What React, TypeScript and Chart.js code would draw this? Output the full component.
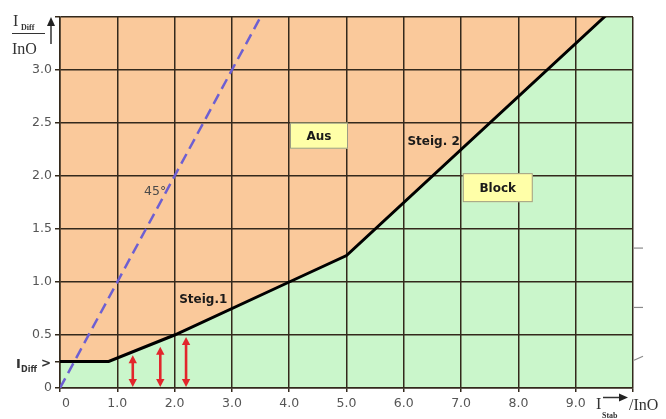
import { useEffect, useRef } from 'react';
import { Chart, registerables } from 'chart.js';

Chart.register(...registerables);

// ---- data ----
const xTickValues = [0, 1, 2, 3, 4, 5, 6, 7, 8, 9, 10];
const yTickValues = [0, 0.25, 0.5, 1.0, 1.5, 2.0, 2.5, 3.0, 3.5];
const curveX = [0, 0.85, 2, 4, 5, 9.5, 10];
const curveY = [0.25, 0.25, 0.5, 1.0, 1.25, 3.5, 3.75];
const diagX = [0, 3.6];
const diagY = [0, 3.6];
const arrowX = [1.27, 1.75, 2.2];
const arrowTop = [0.31, 0.39, 0.48];
const rightMarks = [1.32, 0.76, 0.28];
const boxTexts = ['Aus', 'Block'];
const boxX = [4.52, 7.64];
const boxY = [2.38, 1.89];
const noteTexts = ['Steig. 2', 'Steig.1'];
const noteX = [6.52, 2.5];
const noteY = [2.32, 0.83];
const angleText = '45°';
const angleX = 1.66;
const angleY = 1.85;

// ---- styles ----
const ORANGE = '#fac99b';
const GREEN = '#caf6cb';
const GRID = '#33291c';
const TICK_COLOR = '#555555';
const SANS = '"DejaVu Sans", Verdana, sans-serif';
const SERIF = '"Liberation Serif", "DejaVu Serif", serif';

const annotPlugin = {
  id: 'annot',
  afterDatasetsDraw(chart: any) {
    const { ctx } = chart;
    const xs = chart.scales.x;
    const ys = chart.scales.y;
    ctx.save();
    ctx.strokeStyle = '#e2262c';
    ctx.fillStyle = '#e2262c';
    ctx.lineWidth = 2.6;
    const head = 8;
    const hw = 4.2;
    for (let i = 0; i < arrowX.length; i++) {
      const px = xs.getPixelForValue(arrowX[i]);
      const y0 = ys.getPixelForValue(0) - 1;
      const y1 = ys.getPixelForValue(arrowTop[i]);
      ctx.beginPath();
      ctx.moveTo(px, y0 - head + 1);
      ctx.lineTo(px, y1 + head - 1);
      ctx.stroke();
      ctx.beginPath();
      ctx.moveTo(px, y1);
      ctx.lineTo(px - hw, y1 + head);
      ctx.lineTo(px + hw, y1 + head);
      ctx.closePath();
      ctx.fill();
      ctx.beginPath();
      ctx.moveTo(px, y0);
      ctx.lineTo(px - hw, y0 - head);
      ctx.lineTo(px + hw, y0 - head);
      ctx.closePath();
      ctx.fill();
    }
    ctx.restore();
  },
  afterDraw(chart: any) {
    const { ctx } = chart;
    const xs = chart.scales.x;
    const ys = chart.scales.y;
    const area = chart.chartArea;
    ctx.save();
    // faint marks right of the frame
    ctx.strokeStyle = '#8a8a8a';
    ctx.lineWidth = 1.2;
    for (let i = 0; i < rightMarks.length; i++) {
      const py = ys.getPixelForValue(rightMarks[i]);
      ctx.beginPath();
      ctx.moveTo(area.right + 1, py + (i === 2 ? 2 : 0));
      ctx.lineTo(area.right + 10, py - (i === 2 ? 2 : 0));
      ctx.stroke();
    }
    // boxes
    ctx.font = `bold 12px ${SANS}`;
    ctx.textAlign = 'center';
    ctx.textBaseline = 'middle';
    const boxW = [58, 70];
    const boxH = [26, 29];
    for (let i = 0; i < boxTexts.length; i++) {
      const cx = xs.getPixelForValue(boxX[i]);
      const cy = ys.getPixelForValue(boxY[i]);
      const w = boxW[i];
      const h = boxH[i];
      ctx.fillStyle = '#ffffa8';
      ctx.fillRect(cx - w / 2, cy - h / 2, w, h);
      ctx.strokeStyle = '#9c9c84';
      ctx.lineWidth = 1;
      ctx.strokeRect(cx - w / 2 + 0.5, cy - h / 2 + 0.5, w - 1, h - 1);
      ctx.fillStyle = '#1a1a1a';
      ctx.fillText(boxTexts[i], cx, cy + 1);
    }
    // notes
    for (let i = 0; i < noteTexts.length; i++) {
      ctx.fillStyle = '#1a1a1a';
      ctx.fillText(noteTexts[i], xs.getPixelForValue(noteX[i]), ys.getPixelForValue(noteY[i]));
    }
    ctx.font = `12.5px ${SANS}`;
    ctx.fillStyle = '#4a4a4a';
    ctx.fillText(angleText, xs.getPixelForValue(angleX), ys.getPixelForValue(angleY));

    // I_Diff> label
    const yd = ys.getPixelForValue(0.25);
    ctx.textAlign = 'left';
    ctx.textBaseline = 'alphabetic';
    ctx.fillStyle = '#333333';
    ctx.font = `bold 13px ${SANS}`;
    ctx.fillText('I', 16, yd + 6);
    ctx.font = `bold 8px ${SANS}`;
    ctx.fillText('Diff', 21, yd + 10);
    ctx.font = `bold 12px ${SANS}`;
    ctx.fillText('>', 41, yd + 5);

    // y-axis title
    ctx.fillStyle = '#333333';
    ctx.font = `16px ${SERIF}`;
    ctx.fillText('I', 13, 26);
    ctx.font = `bold 8px ${SERIF}`;
    ctx.fillText('Diff', 21, 30);
    ctx.strokeStyle = '#333333';
    ctx.lineWidth = 1.2;
    ctx.beginPath();
    ctx.moveTo(12, 33.5);
    ctx.lineTo(45, 33.5);
    ctx.stroke();
    ctx.font = `16px ${SERIF}`;
    ctx.fillText('InO', 12, 54);
    ctx.lineWidth = 1.5;
    ctx.beginPath();
    ctx.moveTo(51, 44);
    ctx.lineTo(51, 24);
    ctx.stroke();
    ctx.beginPath();
    ctx.moveTo(51, 17);
    ctx.lineTo(47, 26);
    ctx.lineTo(55, 26);
    ctx.closePath();
    ctx.fillStyle = '#222222';
    ctx.fill();

    // x-axis title
    ctx.fillStyle = '#333333';
    ctx.font = `16px ${SERIF}`;
    ctx.fillText('I', 596, 409);
    ctx.font = `bold 8px ${SERIF}`;
    ctx.fillText('Stab', 602, 418);
    ctx.beginPath();
    ctx.moveTo(603, 397.5);
    ctx.lineTo(620, 397.5);
    ctx.stroke();
    ctx.beginPath();
    ctx.moveTo(628, 397.5);
    ctx.lineTo(619, 393.5);
    ctx.lineTo(619, 401.5);
    ctx.closePath();
    ctx.fillStyle = '#222222';
    ctx.fill();
    ctx.fillStyle = '#333333';
    ctx.font = `16px ${SERIF}`;
    ctx.fillText('/InO', 629, 410);
    ctx.restore();
  },
};

export default function App() {
  const ref = useRef<HTMLCanvasElement>(null);
  useEffect(() => {
    const canvas = ref.current;
    if (!canvas) return;
    const curvePts = curveX.map((x, i) => ({ x, y: curveY[i] }));
    const diagPts = diagX.map((x, i) => ({ x, y: diagY[i] }));
    const chart = new Chart(canvas, {
      type: 'line',
      data: {
        datasets: [
          {
            label: '45°',
            data: diagPts,
            borderColor: '#6d5fd2',
            borderDash: [11, 6],
            borderWidth: 2.5,
            pointRadius: 0,
            fill: false,
            order: 0,
          },
          {
            label: 'Block',
            data: curvePts,
            borderColor: '#000000',
            borderWidth: 3,
            backgroundColor: GREEN,
            fill: 'start',
            pointRadius: 0,
            order: 1,
          },
          {
            label: 'Aus',
            data: curvePts,
            borderColor: 'rgba(0,0,0,0)',
            borderWidth: 0,
            backgroundColor: ORANGE,
            fill: 'end',
            pointRadius: 0,
            order: 2,
          },
        ],
      },
      options: {
        responsive: false,
        animation: false,
        layout: { padding: { top: 17, right: 33, left: 0, bottom: 0 } },
        plugins: {
          legend: { display: false },
          tooltip: { enabled: false },
          filler: { drawTime: 'beforeDraw' },
        } as any,
        scales: {
          x: {
            type: 'linear',
            min: 0,
            max: 10,
            afterBuildTicks: (s: any) => {
              s.ticks = xTickValues.map((v) => ({ value: v }));
            },
            ticks: {
              autoSkip: false,
              maxRotation: 0,
              padding: 4,
              color: TICK_COLOR,
              font: { family: SANS, size: 12.5 },
              callback: (v: any) => (v === 0 ? '   0' : v === 10 ? '' : Number(v).toFixed(1)),
            },
            grid: { color: GRID, lineWidth: 1.5, tickLength: 4, tickColor: GRID },
            border: { color: GRID, width: 1.5 },
            afterFit: (s: any) => {
              s.height = 31;
            },
          },
          y: {
            type: 'linear',
            min: 0,
            max: 3.5,
            afterBuildTicks: (s: any) => {
              s.ticks = yTickValues.map((v) => ({ value: v }));
            },
            ticks: {
              autoSkip: false,
              padding: 3,
              color: TICK_COLOR,
              font: { family: SANS, size: 12.5 },
              callback: (v: any) =>
                v === 0 ? '0' : v === 0.25 || v === 3.5 ? '' : Number(v).toFixed(1),
            },
            grid: {
              color: (c: any) => (c.tick && c.tick.value === 0.25 ? 'rgba(0,0,0,0)' : GRID),
              lineWidth: 1.5,
              tickLength: 5,
              tickColor: GRID,
            },
            border: { color: GRID, width: 1.5 },
            afterFit: (s: any) => {
              s.width = 60;
            },
          },
        },
      } as any,
      plugins: [annotPlugin],
    });
    return () => chart.destroy();
  }, []);
  return (
    <div style={{ position: 'absolute', left: 0, top: 0, width: 666, height: 419, background: '#ffffff' }}>
      <canvas ref={ref} width={666} height={419} style={{ display: 'block', width: 666, height: 419 }} />
    </div>
  );
}
